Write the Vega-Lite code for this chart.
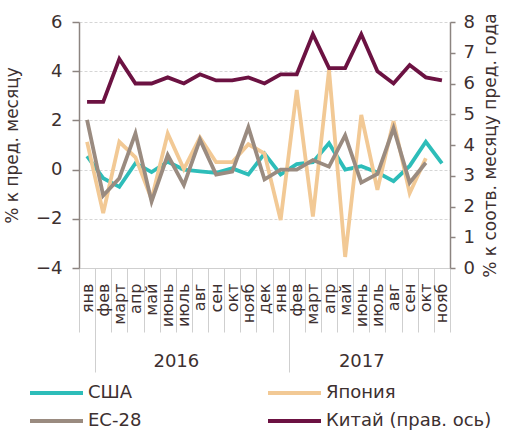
{
  "$schema": "https://vega.github.io/schema/vega-lite/v6.json",
  "width": 371,
  "height": 246,
  "autosize": {"type": "none"},
  "padding": {"left": 79, "top": 22, "right": 62, "bottom": 164},
  "background": "white",
  "config": {
    "font": "DejaVu Sans",
    "view": {"stroke": null},
    "axis": {"labelColor": "#3d3030", "titleColor": "#3d3030", "labelFont": "DejaVu Sans", "titleFont": "DejaVu Sans", "titleFontWeight": "normal"},
    "legend": {"labelFont": "DejaVu Sans"}
  },
  "datasets": {
    "main": [
      {"m": "2016-01", "s": "США", "v": 0.55}, {"m": "2016-02", "s": "США", "v": -0.35}, {"m": "2016-03", "s": "США", "v": -0.7}, {"m": "2016-04", "s": "США", "v": 0.26}, {"m": "2016-05", "s": "США", "v": -0.1}, {"m": "2016-06", "s": "США", "v": 0.32}, {"m": "2016-07", "s": "США", "v": 0.0}, {"m": "2016-08", "s": "США", "v": -0.07}, {"m": "2016-09", "s": "США", "v": -0.13}, {"m": "2016-10", "s": "США", "v": 0.05}, {"m": "2016-11", "s": "США", "v": -0.2}, {"m": "2016-12", "s": "США", "v": 0.65},
      {"m": "2017-01", "s": "США", "v": -0.2}, {"m": "2017-02", "s": "США", "v": 0.22}, {"m": "2017-03", "s": "США", "v": 0.3}, {"m": "2017-04", "s": "США", "v": 1.07}, {"m": "2017-05", "s": "США", "v": 0.0}, {"m": "2017-06", "s": "США", "v": 0.14}, {"m": "2017-07", "s": "США", "v": -0.12}, {"m": "2017-08", "s": "США", "v": -0.47}, {"m": "2017-09", "s": "США", "v": 0.15}, {"m": "2017-10", "s": "США", "v": 1.13}, {"m": "2017-11", "s": "США", "v": 0.25},
      {"m": "2016-01", "s": "Япония", "v": 1.13}, {"m": "2016-02", "s": "Япония", "v": -1.77}, {"m": "2016-03", "s": "Япония", "v": 1.13}, {"m": "2016-04", "s": "Япония", "v": 0.5}, {"m": "2016-05", "s": "Япония", "v": -1.2}, {"m": "2016-06", "s": "Япония", "v": 1.47}, {"m": "2016-07", "s": "Япония", "v": 0.02}, {"m": "2016-08", "s": "Япония", "v": 1.3}, {"m": "2016-09", "s": "Япония", "v": 0.3}, {"m": "2016-10", "s": "Япония", "v": 0.3}, {"m": "2016-11", "s": "Япония", "v": 1.03}, {"m": "2016-12", "s": "Япония", "v": 0.65},
      {"m": "2017-01", "s": "Япония", "v": -2.05}, {"m": "2017-02", "s": "Япония", "v": 3.24}, {"m": "2017-03", "s": "Япония", "v": -1.91}, {"m": "2017-04", "s": "Япония", "v": 4.05}, {"m": "2017-05", "s": "Япония", "v": -3.55}, {"m": "2017-06", "s": "Япония", "v": 2.22}, {"m": "2017-07", "s": "Япония", "v": -0.82}, {"m": "2017-08", "s": "Япония", "v": 1.97}, {"m": "2017-09", "s": "Япония", "v": -0.96}, {"m": "2017-10", "s": "Япония", "v": 0.46},
      {"m": "2016-01", "s": "ЕС-28", "v": 2.02}, {"m": "2016-02", "s": "ЕС-28", "v": -1.05}, {"m": "2016-03", "s": "ЕС-28", "v": -0.35}, {"m": "2016-04", "s": "ЕС-28", "v": 1.47}, {"m": "2016-05", "s": "ЕС-28", "v": -1.3}, {"m": "2016-06", "s": "ЕС-28", "v": 0.59}, {"m": "2016-07", "s": "ЕС-28", "v": -0.63}, {"m": "2016-08", "s": "ЕС-28", "v": 1.22}, {"m": "2016-09", "s": "ЕС-28", "v": -0.2}, {"m": "2016-10", "s": "ЕС-28", "v": -0.08}, {"m": "2016-11", "s": "ЕС-28", "v": 1.72}, {"m": "2016-12", "s": "ЕС-28", "v": -0.4},
      {"m": "2017-01", "s": "ЕС-28", "v": 0.0}, {"m": "2017-02", "s": "ЕС-28", "v": 0.0}, {"m": "2017-03", "s": "ЕС-28", "v": 0.39}, {"m": "2017-04", "s": "ЕС-28", "v": 0.12}, {"m": "2017-05", "s": "ЕС-28", "v": 1.39}, {"m": "2017-06", "s": "ЕС-28", "v": -0.53}, {"m": "2017-07", "s": "ЕС-28", "v": -0.18}, {"m": "2017-08", "s": "ЕС-28", "v": 1.68}, {"m": "2017-09", "s": "ЕС-28", "v": -0.53}, {"m": "2017-10", "s": "ЕС-28", "v": 0.28}
    ],
    "china": [
      {"m": "2016-01", "s": "Китай (прав. ось)", "v": 5.4}, {"m": "2016-02", "s": "Китай (прав. ось)", "v": 5.4}, {"m": "2016-03", "s": "Китай (прав. ось)", "v": 6.8}, {"m": "2016-04", "s": "Китай (прав. ось)", "v": 6.0}, {"m": "2016-05", "s": "Китай (прав. ось)", "v": 6.0}, {"m": "2016-06", "s": "Китай (прав. ось)", "v": 6.2}, {"m": "2016-07", "s": "Китай (прав. ось)", "v": 6.0}, {"m": "2016-08", "s": "Китай (прав. ось)", "v": 6.3}, {"m": "2016-09", "s": "Китай (прав. ось)", "v": 6.1}, {"m": "2016-10", "s": "Китай (прав. ось)", "v": 6.1}, {"m": "2016-11", "s": "Китай (прав. ось)", "v": 6.2}, {"m": "2016-12", "s": "Китай (прав. ось)", "v": 6.0},
      {"m": "2017-01", "s": "Китай (прав. ось)", "v": 6.3}, {"m": "2017-02", "s": "Китай (прав. ось)", "v": 6.3}, {"m": "2017-03", "s": "Китай (прав. ось)", "v": 7.6}, {"m": "2017-04", "s": "Китай (прав. ось)", "v": 6.5}, {"m": "2017-05", "s": "Китай (прав. ось)", "v": 6.5}, {"m": "2017-06", "s": "Китай (прав. ось)", "v": 7.6}, {"m": "2017-07", "s": "Китай (прав. ось)", "v": 6.4}, {"m": "2017-08", "s": "Китай (прав. ось)", "v": 6.0}, {"m": "2017-09", "s": "Китай (прав. ось)", "v": 6.6}, {"m": "2017-10", "s": "Китай (прав. ось)", "v": 6.2}, {"m": "2017-11", "s": "Китай (прав. ось)", "v": 6.1}
    ]
  },
  "layer": [
    {
      "data": {"name": "main"},
      "encoding": {
        "x": {
          "field": "m", "type": "ordinal", "sort": null,
          "scale": {"type": "band", "paddingInner": 0, "paddingOuter": 0},
          "axis": {
            "orient": "bottom", "title": null, "labelAngle": -90,
            "labelExpr": "['янв','фев','март','апр','май','июнь','июль','авг','сен','окт','нояб','дек'][toNumber(substring(datum.value,5,7))-1]",
            "labelFontSize": 16, "labelOverlap": false, "labelPadding": -49,
            "tickBand": "extent", "tickSize": 64, "tickColor": "#cfcfcf", "tickWidth": 1,
            "domain": true, "domainColor": "#cfcfcf", "grid": false
          }
        },
        "y": {
          "type": "quantitative",
          "scale": {"domain": [-4, 6], "nice": false, "zero": false},
          "axis": {
            "orient": "left", "values": [-4, -2, 0, 2, 4, 6], "title": "% к пред. месяцу",
            "titleFontSize": 17, "titlePadding": 14, "labelFontSize": 18, "labelPadding": 10,
            "tickSize": 7, "tickColor": "#8c8480", "domainColor": "#8c8480", "domainWidth": 1.5, "tickWidth": 1.5,
            "grid": true, "gridColor": "#d6d6d6", "gridDash": [3, 2], "gridWidth": 1
          }
        }
      },
      "layer": [
        {
          "mark": {"type": "rule", "color": "#bdbdbd", "strokeWidth": 2},
          "encoding": {"y": {"datum": 0}}
        },
        {
          "mark": {"type": "line", "strokeWidth": 3.8, "strokeJoin": "miter"},
          "encoding": {
            "x": {"field": "m", "type": "ordinal", "sort": null, "bandPosition": 0.5},
            "y": {"field": "v", "type": "quantitative"},
            "color": {
              "field": "s", "type": "nominal",
              "scale": {"domain": ["США", "Япония", "ЕС-28", "Китай (прав. ось)"], "range": ["#2dbdb9", "#f2c995", "#9a8b80", "#6c1242"]},
              "legend": {
                "orient": "none", "legendX": -51, "legendY": 361, "direction": "horizontal", "columns": 2,
                "title": null, "symbolType": "stroke", "symbolSize": 2809, "symbolStrokeWidth": 4,
                "clipHeight": 20,
                "labelFontSize": 18, "labelColor": "#3d3030", "labelOffset": 3, "columnPadding": 124, "rowPadding": 8,
                "labelLimit": 300
              }
            }
          }
        }
      ]
    },
    {
      "data": {"name": "china"},
      "mark": {"type": "line", "strokeWidth": 3.8, "strokeJoin": "miter"},
      "encoding": {
        "x": {
          "field": "m", "type": "ordinal", "sort": null, "bandPosition": 0.5,
          "axis": {
            "orient": "bottom", "title": null, "labelAngle": 0,
            "labelExpr": "datum.value == '2016-07' ? '2016' : (datum.value == '2017-06' ? '2017' : '')",
            "labelOffset": {"condition": {"test": "datum.value == '2016-07'", "value": -8}, "value": 0},
            "labelFontSize": 18, "labelOverlap": false, "labelPadding": -20, "labelBaseline": "top",
            "tickBand": "extent", "tickSize": 104,
            "tickColor": {"condition": {"test": "datum.value == '2016-01' || datum.value == '2017-01'", "value": "#cfcfcf"}, "value": "transparent"},
            "domain": false, "grid": false
          }
        },
        "y": {
          "field": "v", "type": "quantitative",
          "scale": {"domain": [0, 8], "nice": false, "zero": false},
          "axis": {
            "orient": "right", "values": [0, 1, 2, 3, 4, 5, 6, 7, 8], "title": "% к соотв. месяцу пред. года",
            "titleFontSize": 17, "titleAngle": -90, "titleBaseline": "top", "titlePadding": 8, "labelFontSize": 18, "labelPadding": 8,
            "tickSize": 5, "tickColor": "#8c8480", "domainColor": "#8c8480", "domainWidth": 1.5, "tickWidth": 1.5,
            "grid": false
          }
        },
        "color": {"field": "s", "type": "nominal"}
      }
    }
  ],
  "resolve": {"scale": {"y": "independent"}, "axis": {"x": "independent", "y": "independent"}}
}
